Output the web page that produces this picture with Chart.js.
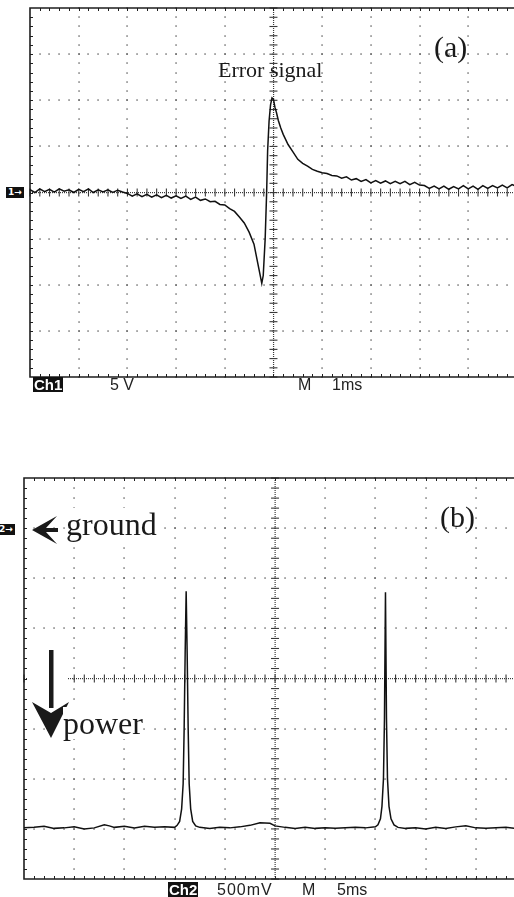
<!DOCTYPE html>
<html>
<head>
<meta charset="utf-8">
<script src="https://cdn.jsdelivr.net/npm/chart.js@4.4.1/dist/chart.umd.min.js"></script>
<style>
  html, body { margin: 0; padding: 0; background: #fff; }
  #page { position: relative; width: 514px; height: 897px; overflow: hidden; background: #fff; }
  canvas { position: absolute; left: 0; }
  .lbl { position: absolute; line-height: 1; white-space: nowrap; }
  .serif { font-family: "Liberation Serif", "Times New Roman", serif; color: #1a1a1a; }
  .sans { font-family: "Liberation Sans", Arial, sans-serif; font-size: 16px; color: #222; }
  .box { background: #111; color: #fff; font-weight: bold; font-size: 15px; padding: 0 1px; }
  .mark { background: #111; color: #fff; font-family: "DejaVu Sans", sans-serif; font-weight: bold; font-size: 9px; padding: 1px 2px; }
  .white { background: #fff; }
  svg { position: absolute; left: 0; top: 0; }
</style>
</head>
<body>
<div id="page">
  <canvas id="scopeA" width="514" height="400" style="top:0"></canvas>
  <canvas id="scopeB" width="514" height="427" style="top:470px"></canvas>

  <svg width="514" height="897">
    <!-- mask where the annotation sits over the centre line -->
    <rect x="28" y="672" width="39" height="13" fill="#fff"/>
    <!-- ground arrow -->
    <polygon points="32,530 57,516 46,528 58,528 58,532 46,532 57,544" fill="#1a1a1a"/>
    <!-- power arrow -->
    <rect x="49" y="650" width="4.5" height="58" fill="#1a1a1a"/>
    <polygon points="32,702 51,713 69,702 51,738" fill="#1a1a1a"/>
  </svg>

  <!-- panel (a) -->
  <div class="lbl serif" style="left:218px;top:59px;font-size:22px;">Error signal</div>
  <div class="lbl serif" style="left:434px;top:32px;font-size:30px;">(a)</div>
  <div class="lbl mark" style="left:6px;top:187px;">1&#x2192;</div>
  <div class="lbl sans box" style="left:33px;top:377px;">Ch1</div>
  <div class="lbl sans" style="left:110px;top:377px;">5 V</div>
  <div class="lbl sans" style="left:298px;top:377px;">M</div>
  <div class="lbl sans" style="left:332px;top:377px;">1ms</div>

  <!-- panel (b) -->
  <div class="lbl serif" style="left:440px;top:502px;font-size:30px;">(b)</div>
  <div class="lbl mark" style="left:-3px;top:524px;">2&#x2192;</div>
  <div class="lbl serif white" style="left:66px;top:508px;font-size:32px;">ground</div>
  <div class="lbl serif white" style="left:63px;top:707px;font-size:32px;">power</div>
  <div class="lbl sans box" style="left:168px;top:882px;">Ch2</div>
  <div class="lbl sans" style="left:217px;top:882px;letter-spacing:1px;">500mV</div>
  <div class="lbl sans" style="left:302px;top:882px;">M</div>
  <div class="lbl sans" style="left:337px;top:882px;">5ms</div>
</div>

<script>
// screen (a): error signal, x in divisions (1 ms/div), y in divisions (5 V/div)
const timeA = [
  0.0, 0.1, 0.2, 0.3, 0.4, 0.5, 0.6, 0.7, 0.8, 0.9,
  1.0, 1.1, 1.2, 1.3, 1.4, 1.5, 1.6, 1.7, 1.8, 1.9,
  2.0, 2.1, 2.2, 2.3, 2.4, 2.5, 2.6, 2.7, 2.8, 2.9,
  3.0, 3.1, 3.2, 3.3, 3.4, 3.5, 3.6, 3.7, 3.8, 3.9,
  4.0, 4.1, 4.2, 4.3, 4.4, 4.5, 4.6, 4.7, 4.76, 4.79,
  4.83, 4.86, 4.88, 4.91, 4.94, 4.97, 5.0, 5.03, 5.06, 5.1,
  5.15, 5.2, 5.3, 5.4, 5.5, 5.6, 5.7, 5.8, 5.9, 6.0,
  6.1, 6.2, 6.3, 6.4, 6.5, 6.6, 6.7, 6.8, 6.9, 7.0,
  7.1, 7.2, 7.3, 7.4, 7.5, 7.6, 7.7, 7.8, 7.9, 8.0,
  8.1, 8.2, 8.3, 8.4, 8.5, 8.6, 8.7, 8.8, 8.9, 9.0,
  9.1, 9.2, 9.3, 9.4, 9.5, 9.6, 9.7, 9.8, 9.9, 10.0
];
const voltA = [
  0.06, 0.00, 0.08, 0.02, 0.07, 0.01, 0.08, 0.03, 0.06, 0.00,
  0.07, 0.02, 0.08, 0.00, 0.06, 0.01, 0.06, 0.00, 0.05, 0.01,
  -0.02, -0.08, -0.03, -0.09, -0.04, -0.10, -0.05, -0.11, -0.06, -0.12,
  -0.07, -0.13, -0.08, -0.15, -0.10, -0.17, -0.14, -0.20, -0.19, -0.26,
  -0.27, -0.35, -0.41, -0.53, -0.66, -0.86, -1.12, -1.65, -1.97, -1.80,
  -1.00, 0.00, 0.90, 1.55, 1.90, 2.05, 2.02, 1.85, 1.74, 1.56,
  1.40, 1.26, 1.04, 0.88, 0.72, 0.63, 0.57, 0.50, 0.46, 0.43,
  0.41, 0.37, 0.36, 0.31, 0.34, 0.27, 0.30, 0.24, 0.28, 0.21,
  0.26, 0.20, 0.25, 0.19, 0.24, 0.19, 0.24, 0.17, 0.22, 0.16,
  0.15, 0.09, 0.14, 0.08, 0.14, 0.07, 0.13, 0.08, 0.15, 0.08,
  0.14, 0.07, 0.15, 0.09, 0.15, 0.10, 0.16, 0.10, 0.17, 0.13
];

// screen (b): transmitted power, x in divisions (5 ms/div), y in divisions (500 mV/div)
const timeB = [
  0.0, 0.2, 0.4, 0.6, 0.8, 1.0, 1.2, 1.4, 1.6, 1.7,
  1.8, 2.0, 2.2, 2.4, 2.6, 2.8, 3.0, 3.05, 3.1, 3.14,
  3.17, 3.19, 3.21, 3.23, 3.25, 3.27, 3.29, 3.32, 3.36, 3.42,
  3.5, 3.7, 3.9, 4.1, 4.3, 4.5, 4.7, 4.9, 5.0, 5.2,
  5.4, 5.6, 5.8, 6.0, 6.2, 6.4, 6.6, 6.8, 7.0, 7.05,
  7.1, 7.13, 7.16, 7.18, 7.2, 7.22, 7.24, 7.27, 7.31, 7.37,
  7.45, 7.6, 7.8, 8.0, 8.2, 8.4, 8.6, 8.8, 9.0, 9.2,
  9.4, 9.6, 9.8
];
const voltB = [
  -2.98, -2.97, -2.95, -2.99, -2.98, -2.96, -3.00, -2.98, -2.92, -2.94,
  -2.97, -2.95, -2.98, -2.95, -2.97, -2.96, -2.97, -2.93, -2.85, -2.60,
  -2.10, -1.00, 0.50, 1.74, 0.50, -1.00, -2.10, -2.60, -2.85, -2.94,
  -2.97, -2.99, -2.97, -2.98, -2.96, -2.93, -2.88, -2.89, -2.94, -2.97,
  -2.99, -2.97, -2.99, -2.98, -2.99, -2.98, -2.97, -2.98, -2.96, -2.92,
  -2.80, -2.55, -2.00, -0.80, 1.72, -0.80, -2.00, -2.55, -2.80, -2.92,
  -2.97, -2.99, -2.98, -3.00, -2.97, -2.99, -2.96, -2.94, -2.98, -2.99,
  -2.98, -2.97, -2.99
];

// oscilloscope graticule: dotted divisions, ticked centre axes, ticked frame
const scopeGrid = {
  id: 'scopeGrid',
  beforeDatasetsDraw(chart, args, opts) {
    const {ctx, chartArea: a} = chart;
    const X = v => chart.scales.x.getPixelForValue(v);
    const Y = v => chart.scales.y.getPixelForValue(v);
    const dot = (px, py) => ctx.fillRect(Math.round(px) - 0.6, Math.round(py) - 0.6, 1.3, 1.3);

    ctx.save();
    ctx.fillStyle = '#4a4a4a';
    for (let i = 1; i <= 9; i++) {
      if (i === 5 || X(i) > a.right) continue;
      for (let k = 0; k <= 40; k++) dot(X(i), Y(-4 + k * 0.2));
    }
    for (let j = -3; j <= 3; j++) {
      if (j === 0) continue;
      for (let k = 1; k <= 50; k++) {
        if (X(k * 0.2) > a.right) break;
        dot(X(k * 0.2), Y(j));
      }
    }

    // centre axes
    const x0 = X(5), y0 = Y(0);
    const hStart = X(opts.centerFrom || 0);
    ctx.fillStyle = '#3a3a3a';
    for (let px = hStart; px <= a.right; px += 2) ctx.fillRect(px, y0 - 0.5, 1, 1.2);
    for (let py = a.top; py <= a.bottom; py += 2) ctx.fillRect(x0 - 0.5, py, 1.2, 1);
    for (let k = 0; k <= 50; k++) {
      const px = X(k * 0.2);
      if (px > a.right) break;
      if (px >= hStart) ctx.fillRect(px - 0.5, y0 - 4, 1.1, 8);
    }
    for (let k = 0; k <= 40; k++) ctx.fillRect(x0 - 4, Y(-4 + k * 0.2) - 0.5, 8, 1.1);

    // frame (right edge is cut off in the photo)
    ctx.strokeStyle = '#1e1e1e';
    ctx.lineWidth = 1.6;
    ctx.beginPath();
    ctx.moveTo(a.right, a.top);
    ctx.lineTo(a.left, a.top);
    ctx.lineTo(a.left, a.bottom);
    ctx.lineTo(a.right, a.bottom);
    ctx.stroke();
    ctx.lineWidth = 1;
    ctx.beginPath();
    for (let k = 1; k <= 50; k++) {
      const px = Math.round(X(k * 0.2)) + 0.5;
      if (px > a.right) break;
      ctx.moveTo(px, a.top); ctx.lineTo(px, a.top + 3);
      ctx.moveTo(px, a.bottom); ctx.lineTo(px, a.bottom - 3);
    }
    for (let k = 1; k < 40; k++) {
      const py = Math.round(Y(-4 + k * 0.2)) + 0.5;
      ctx.moveTo(a.left, py); ctx.lineTo(a.left + 3, py);
    }
    ctx.stroke();
    ctx.restore();
  }
};

function makeScope(id, times, volts, pad, xMax, centerFrom) {
  const ctx = document.getElementById(id).getContext('2d');
  return new Chart(ctx, {
    type: 'line',
    data: {
      datasets: [{
        data: times.map((t, i) => ({x: t, y: volts[i]})),
        borderColor: '#111',
        borderWidth: 1.5,
        pointRadius: 0,
        tension: 0
      }]
    },
    options: {
      responsive: false,
      animation: false,
      events: [],
      layout: { padding: pad },
      scales: {
        x: { type: 'linear', min: 0, max: xMax, display: false },
        y: { type: 'linear', min: -4, max: 4, display: false }
      },
      plugins: {
        legend: { display: false },
        tooltip: { enabled: false },
        scopeGrid: { centerFrom: centerFrom }
      }
    },
    plugins: [scopeGrid]
  });
}

// right edge of both screens is cropped just before the 10th division
makeScope('scopeA', timeA, voltA, {left: 30, top: 8, right: 0, bottom: 23}, 9.94, 0);
makeScope('scopeB', timeB, voltB, {left: 24, top: 8, right: 0, bottom: 18}, 9.76, 0);
</script>
</body>
</html>
